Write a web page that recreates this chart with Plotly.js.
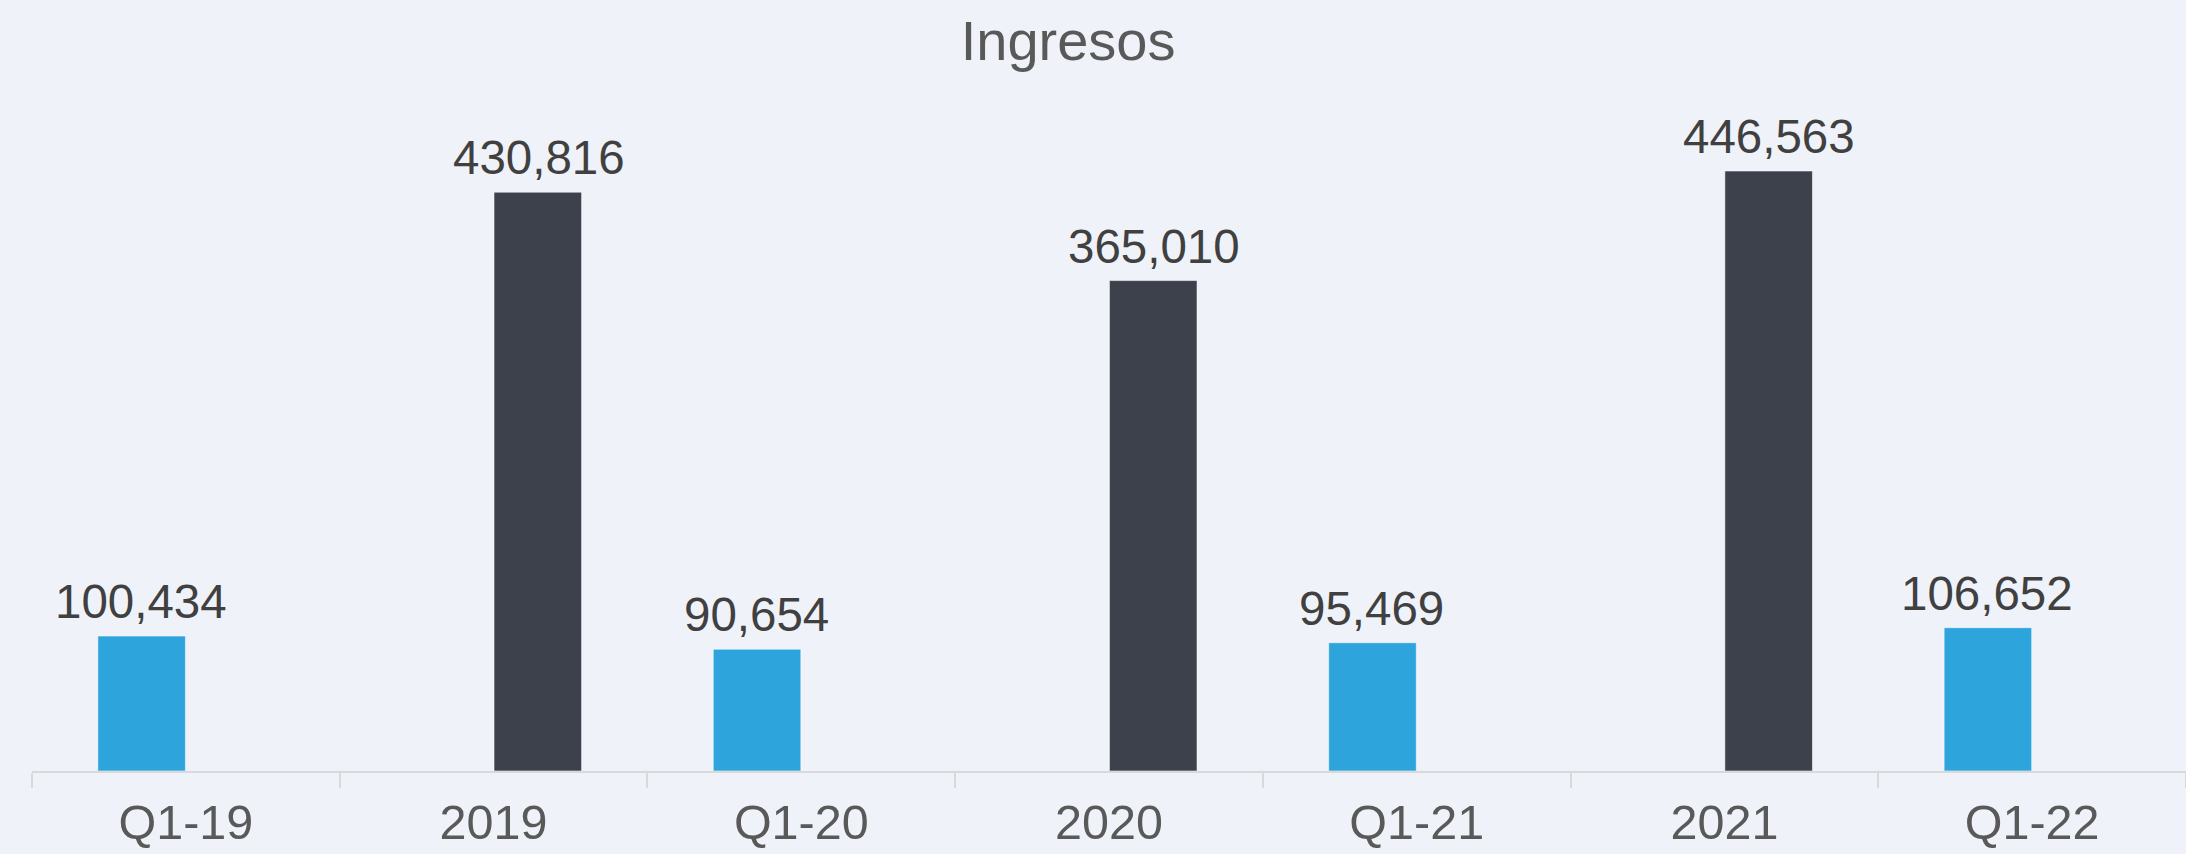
<!DOCTYPE html>
<html>
<head>
<meta charset="utf-8">
<script src="https://cdn.plot.ly/plotly-3.0.1.min.js"></script>
<style>
  html, body {margin: 0; padding: 0; background: #eff2f9;}
  #chart {width: 2186px; height: 854px;}
</style>
</head>
<body>
<div id="chart"></div>
<script>
const categories = ['Q1-19', '2019', 'Q1-20', '2020', 'Q1-21', '2021', 'Q1-22']
const quarterValues = [100434, null, 90654, null, 95469, null, 106652]
const annualValues = [null, 430816, null, 365010, null, 446563, null]

const FONT = '"Liberation Sans", Arial, sans-serif'
const BLUE = '#2ea4dc'
const DARK = '#3d414b'

const barLine = {color: 'rgba(255,255,255,0.55)', width: 1}

const data = [
  {
    type: 'bar',
    name: 'Trimestre',
    x: categories,
    y: quarterValues,
    marker: {color: BLUE, line: barLine},
    hoverinfo: 'x+y'
  },
  {
    type: 'bar',
    name: 'Año',
    x: categories,
    y: annualValues,
    marker: {color: DARK, line: barLine},
    hoverinfo: 'x+y'
  }
]

// value labels above each bar, shifted onto its slot in the group
// (x is the category index: labels like '2019' would be read as an index otherwise)
const fmt = (v) => v.toLocaleString('en-US')
const annotations = []
categories.forEach((cat, i) => {
  if (quarterValues[i] !== null) {
    annotations.push({x: i, y: quarterValues[i], text: fmt(quarterValues[i]), xshift: -45})
  }
  if (annualValues[i] !== null) {
    annotations.push({x: i, y: annualValues[i], text: fmt(annualValues[i]), xshift: 45})
  }
})
annotations.forEach((a) => {
  a.xref = 'x'
  a.yref = 'y'
  a.showarrow = false
  a.yanchor = 'bottom'
  a.xanchor = 'center'
  a.yshift = 6
  a.font = {family: FONT, size: 47.5, color: '#404040'}
})

const layout = {
  width: 2186,
  height: 854,
  paper_bgcolor: '#eff2f9',
  plot_bgcolor: '#eff2f9',
  margin: {t: 100, l: 32, r: 0, b: 83},
  showlegend: false,
  barmode: 'group',
  bargap: 0.425,
  bargroupgap: 0.01,
  title: {
    text: 'Ingresos',
    x: 0.4886,
    xref: 'container',
    xanchor: 'center',
    y: 1 - 40 / 854,
    yref: 'container',
    yanchor: 'middle',
    font: {family: FONT, size: 56, color: '#595959'}
  },
  xaxis: {
    type: 'category',
    range: [-0.5, categories.length - 0.5],
    fixedrange: true,
    showgrid: false,
    zeroline: false,
    showline: true,
    linecolor: '#d9d9d9',
    linewidth: 2,
    ticks: 'outside',
    tickson: 'boundaries',
    ticklen: 15,
    tickwidth: 2,
    tickcolor: '#d9d9d9',
    tickangle: 0,
    ticklabelstandoff: 8,
    tickfont: {family: FONT, size: 48.5, color: '#595959'}
  },
  yaxis: {
    range: [0, 499400],
    visible: false,
    showgrid: false,
    zeroline: false
  },
  annotations
}

Plotly.newPlot('chart', data, layout, {staticPlot: true})
</script>
</body>
</html>
